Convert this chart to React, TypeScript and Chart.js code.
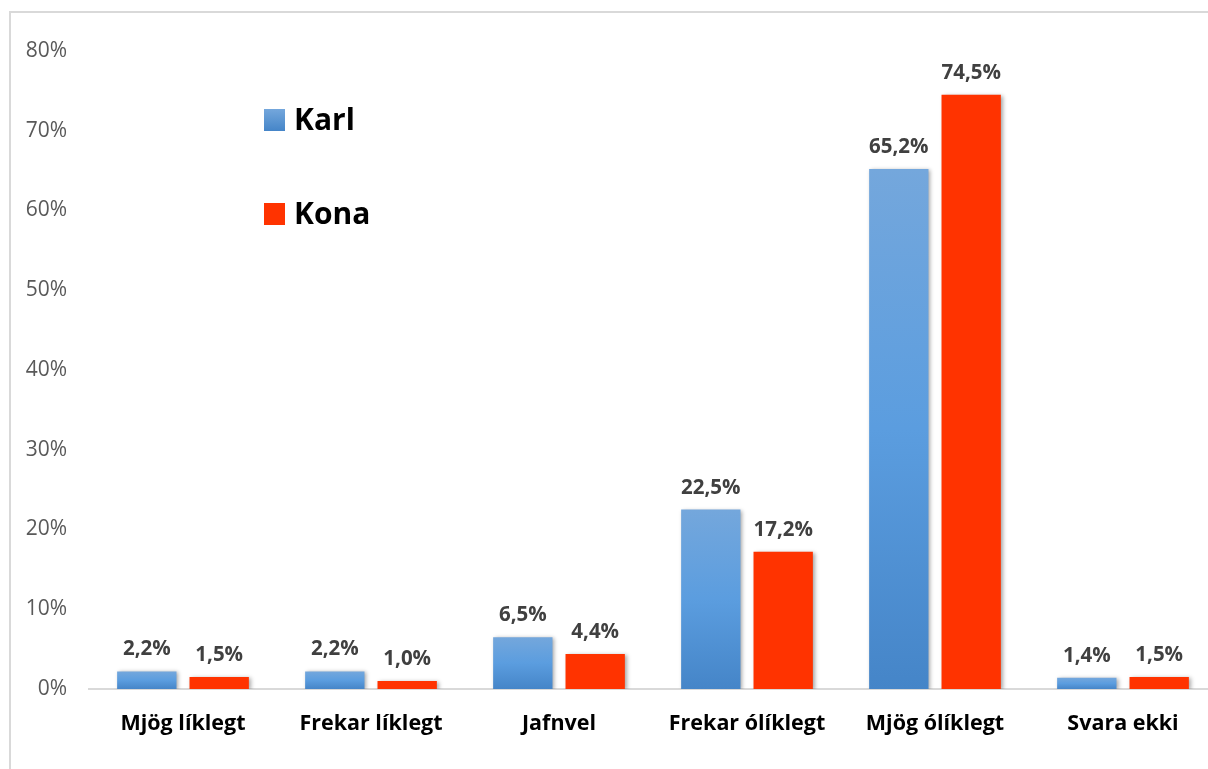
import React, { useEffect, useRef } from "react";
import { Chart, registerables } from "chart.js";

Chart.register(...registerables);

const categories = ["Mjög líklegt", "Frekar líklegt", "Jafnvel", "Frekar ólíklegt", "Mjög ólíklegt", "Svara ekki"];
const karlValues = [2.2, 2.2, 6.5, 22.5, 65.2, 1.4];
const konaValues = [1.5, 1.0, 4.4, 17.2, 74.5, 1.5];
const seriesNames = ["Karl", "Kona"];
const yTickMax = 80;
const yTickStep = 10;

const KONA_COLOR = "#ff3300";
const FONT = "'Open Sans', 'Noto Sans', sans-serif";

const fmt = (v: number) => v.toFixed(1).replace(".", ",") + "%";

export default function App() {
  const ref = useRef<HTMLCanvasElement | null>(null);

  useEffect(() => {
    if (!ref.current) return;

    const blueGradient = (ctx: any) => {
      const chart = ctx.chart;
      if (!chart.chartArea || ctx.raw === undefined) return "#5b9bd5";
      const y = chart.scales.y;
      const top = y.getPixelForValue(ctx.raw);
      const bottom = y.getPixelForValue(0);
      const g = chart.ctx.createLinearGradient(0, top, 0, bottom);
      g.addColorStop(0, "#74a7dc");
      g.addColorStop(0.5, "#5b9ddf");
      g.addColorStop(1, "#4585c8");
      return g;
    };

    const shadowPlugin = {
      id: "barShadow",
      beforeDatasetsDraw(chart: any) {
        const c = chart.ctx;
        c.save();
        c.shadowColor = "rgba(0,0,0,0.35)";
        c.shadowBlur = 4;
        c.shadowOffsetX = 2;
        c.shadowOffsetY = 1;
      },
      afterDatasetsDraw(chart: any) {
        chart.ctx.restore();
      },
    };

    const extrasPlugin = {
      id: "extras",
      beforeDraw(chart: any) {
        const c = chart.ctx;
        c.save();
        c.fillStyle = "#ffffff";
        c.fillRect(0, 0, chart.width, chart.height);
        c.strokeStyle = "#d9d9d9";
        c.lineWidth = 2;
        c.beginPath();
        c.moveTo(10, chart.height + 10);
        c.lineTo(10, 12);
        c.lineTo(chart.width + 10, 12);
        c.stroke();
        c.restore();
      },
      afterDraw(chart: any) {
        const c = chart.ctx;
        c.save();
        // data labels
        c.font = `bold 20.5px ${FONT}`;
        c.fillStyle = "#404040";
        c.textAlign = "center";
        c.textBaseline = "alphabetic";
        chart.data.datasets.forEach((ds: any, di: number) => {
          const meta = chart.getDatasetMeta(di);
          meta.data.forEach((bar: any, i: number) => {
            c.fillText(fmt(ds.data[i]), bar.x, bar.y - 16);
          });
        });
        // legend
        const items = [
          { name: seriesNames[0], y: 120, color: null },
          { name: seriesNames[1], y: 214, color: KONA_COLOR },
        ];
        items.forEach((it) => {
          if (it.color) {
            c.fillStyle = it.color;
          } else {
            const g = c.createLinearGradient(0, it.y - 11, 0, it.y + 11);
            g.addColorStop(0, "#74a7dc");
            g.addColorStop(1, "#4585c8");
            c.fillStyle = g;
          }
          c.fillRect(264, it.y - 11, 21, 22);
          c.fillStyle = "#000000";
          c.font = `bold 30px ${FONT}`;
          c.textAlign = "left";
          c.textBaseline = "middle";
          c.fillText(it.name, 294, it.y + 1);
        });
        c.restore();
      },
    };

    const chart = new Chart(ref.current, {
      type: "bar",
      data: {
        labels: categories,
        datasets: [
          {
            label: seriesNames[0],
            data: karlValues,
            backgroundColor: blueGradient,
            categoryPercentage: 0.77,
            barPercentage: 0.82,
          },
          {
            label: seriesNames[1],
            data: konaValues,
            backgroundColor: KONA_COLOR,
            categoryPercentage: 0.77,
            barPercentage: 0.82,
          },
        ],
      },
      options: {
        responsive: false,
        animation: false,
        layout: { padding: { top: 51, left: 0, right: 23, bottom: 0 } },
        plugins: {
          legend: { display: false },
          tooltip: { enabled: false },
          title: { display: false },
        },
        scales: {
          x: {
            grid: { display: false, drawTicks: false },
            border: { display: true, color: "#d9d9d9", width: 2 },
            ticks: {
              color: "#000000",
              font: { family: FONT, size: 21.5, weight: "bold" },
              padding: 22,
              maxRotation: 0,
              autoSkip: false,
            },
            afterFit: (scale: any) => {
              scale.height = 111;
            },
          },
          y: {
            min: 0,
            max: yTickMax,
            grid: { display: false, drawTicks: false },
            border: { display: false },
            ticks: {
              stepSize: yTickStep,
              color: "#595959",
              font: { family: FONT, size: 21 },
              padding: 22,
              callback: (v: any) => v + "%",
            },
            afterFit: (scale: any) => {
              scale.width = 89;
            },
          },
        },
      },
      plugins: [extrasPlugin, shadowPlugin],
    });

    return () => chart.destroy();
  }, []);

  return (
    <div
      style={{
        position: "fixed",
        left: 0,
        top: 0,
        width: 1208,
        height: 769,
        overflow: "hidden",
        background: "#ffffff",
      }}
    >
      <canvas
        ref={ref}
        width={1240}
        height={800}
        style={{ position: "absolute", left: 0, top: 0, width: 1240, height: 800 }}
      />
    </div>
  );
}
